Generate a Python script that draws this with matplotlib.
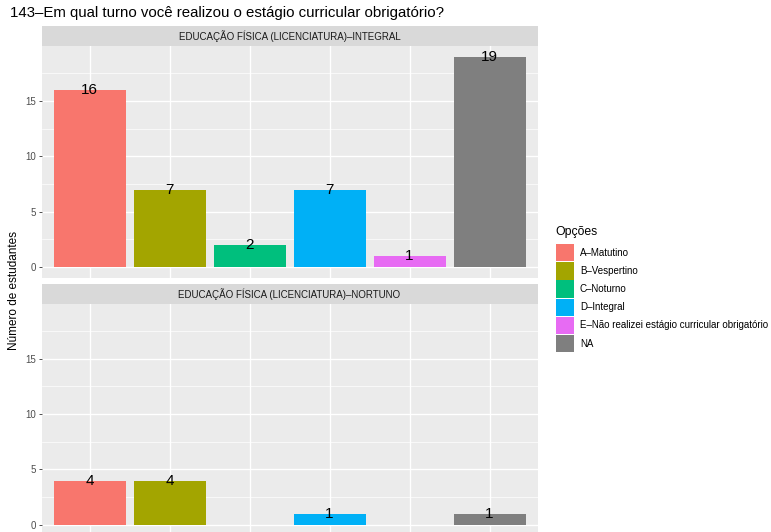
import matplotlib
matplotlib.use("Agg")
import matplotlib.pyplot as plt
from matplotlib.patches import Rectangle

plt.rcParams['font.family'] = ['Liberation Sans', 'DejaVu Sans']

# Dados
titulo = "143–Em qual turno você realizou o estágio curricular obrigatório?"
opcoes = ["A–Matutino", "B–Vespertino", "C–Noturno", "D–Integral",
          "E–Não realizei estágio curricular obrigatório", "NA"]
cores = ["#F8766D", "#A3A500", "#00BF7D", "#00B0F6", "#E76BF3", "#7F7F7F"]
paineis = ["EDUCAÇÃO FÍSICA (LICENCIATURA)–INTEGRAL",
           "EDUCAÇÃO FÍSICA (LICENCIATURA)–NORTUNO"]
integral = [16, 7, 2, 7, 1, 19]
noturno = [4, 4, None, 1, None, 1]
valores = [integral, noturno]
yticks = [0, 5, 10, 15]

W, H = 771, 532
fig = plt.figure(figsize=(W / 100, H / 100), dpi=100)


def fx(px):
    return px / W


def fy(py):
    return 1 - py / H


# posicoes dos paineis em pixels (topo, base)
px_left, px_right = 41.5, 537.5
lim_paineis = [(46, 277.7), (303.7, 535.4)]
strips = [(26, 46), (284, 303.7)]

for k, vals in enumerate(valores):
    top, bot = lim_paineis[k]
    ax = fig.add_axes([fx(px_left), fy(bot), fx(px_right - px_left), (bot - top) / H])
    ax.set_facecolor("#EBEBEB")
    for s in ax.spines.values():
        s.set_visible(False)
    ax.set_xlim(-0.6, 5.6)
    ax.set_ylim(-0.95, 19.95)
    ax.set_yticks(yticks)
    ax.set_yticks([2.5, 7.5, 12.5, 17.5], minor=True)
    ax.set_xticks(range(len(opcoes)))
    ax.set_xticklabels([])
    ax.grid(which="major", color="white", lw=0.95)
    ax.grid(which="minor", axis="y", color="white", lw=0.5)
    ax.set_axisbelow(True)
    ax.tick_params(axis="y", which="major", length=2.5, width=0.6, color="#333333",
                   labelsize=7, labelcolor="#4D4D4D", pad=1.5)
    ax.tick_params(axis="y", which="minor", length=0)
    ax.tick_params(axis="x", length=0)
    for i, v in enumerate(vals):
        if v is None:
            continue
        ax.bar(i, v, width=0.9, color=cores[i], zorder=2)
        ax.text(i, v, str(v), ha="center", va="center", fontsize=11, color="black", zorder=3)

    # faixa do painel
    s0, s1 = strips[k]
    fig.add_artist(Rectangle((fx(px_left), fy(s1)), fx(px_right - px_left), (s1 - s0) / H,
                             transform=fig.transFigure, facecolor="#D9D9D9", edgecolor="none"))
    fig.text(fx((px_left + px_right) / 2), fy((s0 + s1) / 2), paineis[k], ha="center",
             va="center", fontsize=7, color="#1A1A1A")

fig.text(fx(10), fy(13), titulo, ha="left", va="center", fontsize=10.8)
fig.text(fx(14), fy(290), "Número de estudantes", rotation=90, ha="center", va="center",
         fontsize=8.5)

# legenda
fig.text(fx(555), fy(232), "Opções", ha="left", va="center", fontsize=8.8)
for i, (lab, c) in enumerate(zip(opcoes, cores)):
    y0 = 244 + i * 18.2
    fig.add_artist(Rectangle((fx(556), fy(y0 + 17.3)), fx(17.5), 17.3 / H,
                             transform=fig.transFigure, facecolor=c, edgecolor="none"))
    fig.text(fx(580), fy(y0 + 8.6), lab, ha="left", va="center", fontsize=7)

fig.savefig("out.png", dpi=100)
